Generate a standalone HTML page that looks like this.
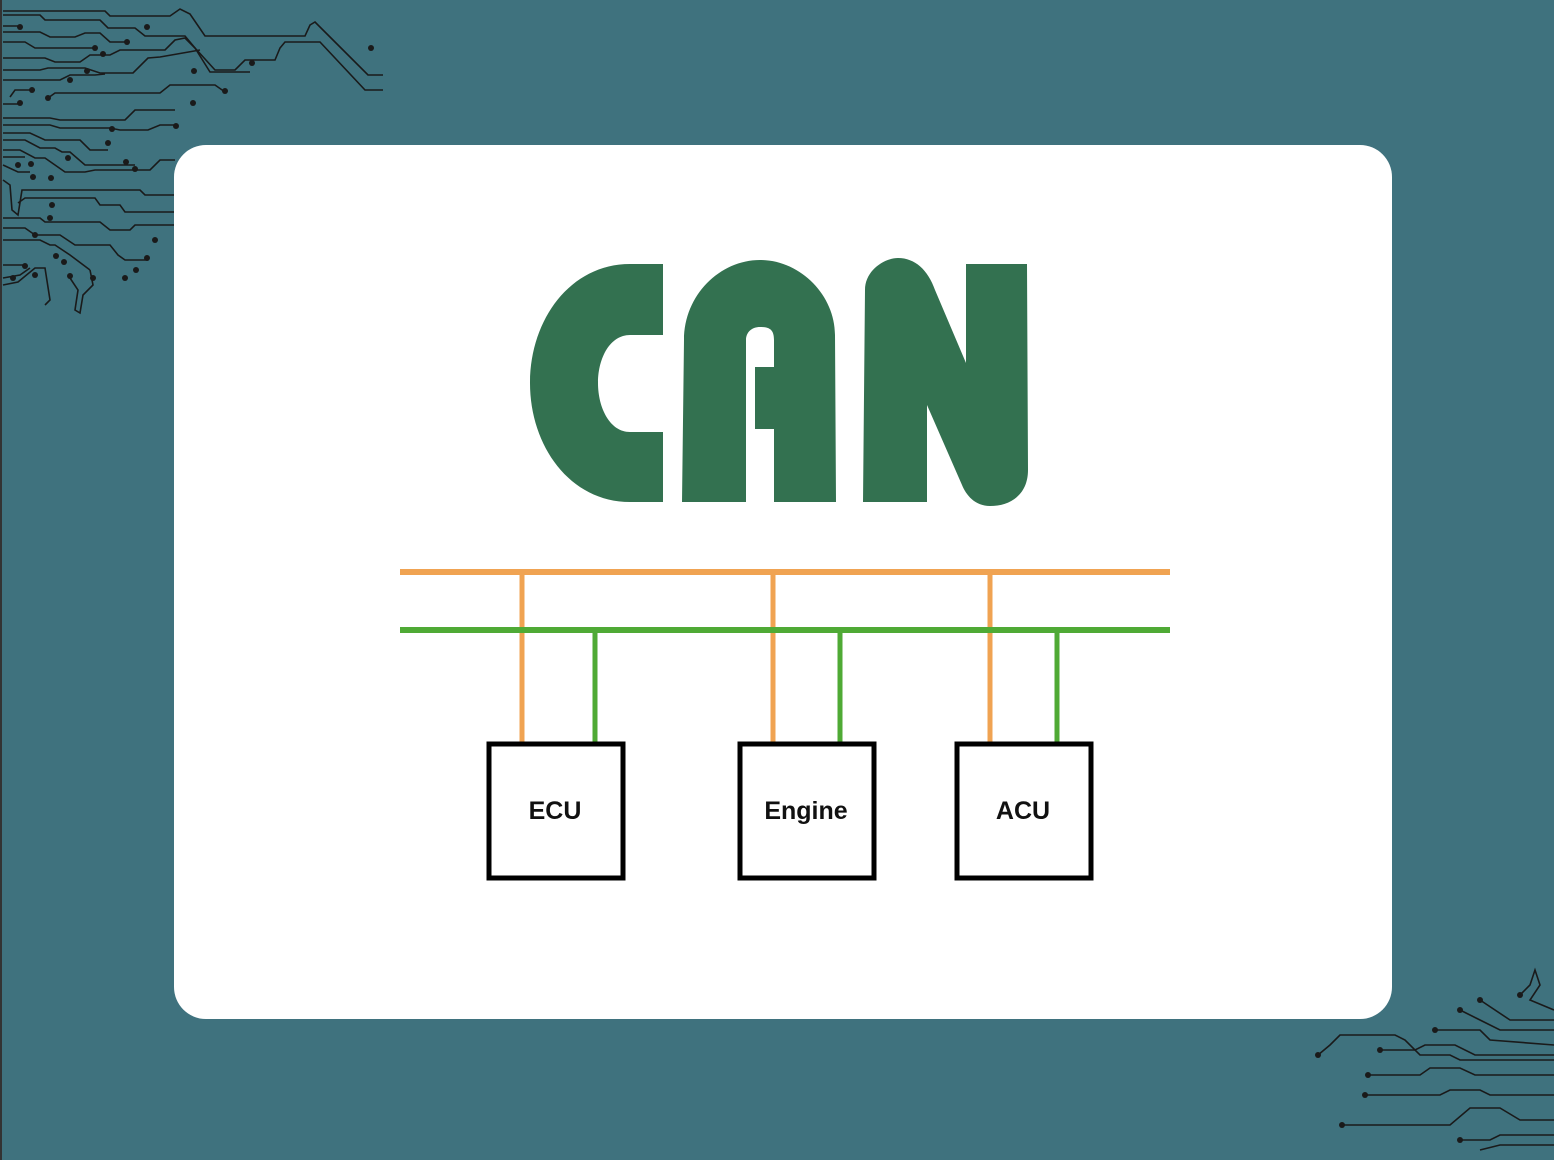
<!DOCTYPE html>
<html><head><style>
html,body{margin:0;padding:0;width:1554px;height:1160px;overflow:hidden;background:#3f727e}
</style></head><body>
<svg width="1554" height="1160" viewBox="0 0 1554 1160" xmlns="http://www.w3.org/2000/svg" style="position:absolute;left:0;top:0">
<rect x="0" y="0" width="1554" height="1160" fill="#3f727e"/>
<rect x="0" y="0" width="2" height="1160" fill="#333"/>
<g fill="none" stroke="#1a1a1a" stroke-width="1.6">
<path d="M3 11 H105 L110 16 H170 L180 9 L190 14 L205 36 H305 L310 25 L315 22 L330 37 L368 75 H383"/>
<path d="M3 15 H40 L45 20 H100 L108 28 H135 L145 36 H185 L195 48 L215 70 H235 L245 60 H275 L280 48 L285 42 H320 L365 90 H383"/>
<path d="M3 26 H20"/><path d="M3 32 H40 L50 37 H75 L85 33 H100 L110 42 H127"/>
<path d="M3 42 H25 L35 48 H95"/>
<path d="M3 58 H45 L55 62 H80 L90 55 H110 L120 50 L165 50 L175 40 L185 38 L195 48 L210 72 H250"/>
<path d="M3 70 H40 L48 68 H85 L100 73 H133 L148 58 L160 57 L200 50"/>
<path d="M3 80 H60 L70 75 H95 L105 74"/>
<path d="M10 97 L15 90 H35"/><path d="M3 104 H20"/>
<path d="M48 98 L55 93 H160 L170 85 H215 L225 92"/>
<path d="M3 118 H50 L60 120 H125 L135 110 H175"/>
<path d="M3 125 H50 L60 128 H110 L120 130 H148 L160 125 H175"/>
<path d="M3 133 H30 L45 140 H80 L90 150 H108"/>
<path d="M3 140 H25 L40 148 H55 L62 152 H70 L85 165 H135"/>
<path d="M3 150 H20 L35 158 H45 L55 165 L65 172 H85 L95 170 H150 L160 160 H175"/>
<path d="M3 157 H25"/><path d="M3 165 L18 172 H30"/>
<path d="M3 180 L10 185 L12 210 L18 215 L22 190 H140 L145 195 H175"/>
<path d="M18 203 L25 198 H95 L100 205 H120 L125 212 H175"/>
<path d="M3 218 H40 L45 222 H100 L110 230 H130 L135 225 H175"/>
<path d="M3 228 H25 L35 235 H60 L75 245 H110 L118 255 L125 260 H148"/>
<path d="M3 240 H40 L50 245 H55 L70 255 L90 270"/>
<path d="M3 265 H25"/><path d="M3 278 L20 275 L30 268"/><path d="M3 285 L18 282 L35 268 H45 L50 300 L45 305"/>
<path d="M70 278 L78 290 L75 310 L80 313 L83 295 L93 285 L90 270"/>
</g>
<g fill="#1a1a1a">
<circle cx="20" cy="27" r="3"/><circle cx="147" cy="27" r="3"/><circle cx="127" cy="42" r="3"/><circle cx="95" cy="48" r="3"/><circle cx="103" cy="54" r="3"/><circle cx="252" cy="63" r="3"/><circle cx="371" cy="48" r="3"/><circle cx="194" cy="71" r="3"/><circle cx="87" cy="71" r="3"/><circle cx="70" cy="80" r="3"/><circle cx="225" cy="91" r="3"/><circle cx="32" cy="90" r="3"/><circle cx="48" cy="98" r="3"/><circle cx="20" cy="103" r="3"/><circle cx="193" cy="103" r="3"/><circle cx="112" cy="129" r="3"/><circle cx="176" cy="126" r="3"/><circle cx="108" cy="143" r="3"/><circle cx="126" cy="162" r="3"/><circle cx="135" cy="169" r="3"/><circle cx="68" cy="158" r="3"/><circle cx="18" cy="165" r="3"/><circle cx="31" cy="164" r="3"/><circle cx="33" cy="177" r="3"/><circle cx="51" cy="178" r="3"/><circle cx="52" cy="205" r="3"/><circle cx="50" cy="218" r="3"/><circle cx="35" cy="235" r="3"/><circle cx="155" cy="240" r="3"/><circle cx="147" cy="258" r="3"/><circle cx="136" cy="270" r="3"/><circle cx="125" cy="278" r="3"/><circle cx="25" cy="266" r="3"/><circle cx="13" cy="278" r="3"/><circle cx="35" cy="275" r="3"/><circle cx="56" cy="256" r="3"/><circle cx="64" cy="262" r="3"/><circle cx="70" cy="276" r="3"/><circle cx="93" cy="278" r="3"/>
</g>
<g fill="none" stroke="#1a1a1a" stroke-width="1.6">
<path d="M1318 1055 L1330 1045 L1340 1035 H1395 L1405 1040 L1420 1055 H1450 L1460 1060 H1554"/>
<path d="M1368 1075 H1420 L1430 1068 H1460 L1475 1075 H1554"/>
<path d="M1380 1050 H1415 L1425 1045 H1455 L1475 1055 H1554"/>
<path d="M1435 1030 H1480 L1490 1040 L1554 1045"/>
<path d="M1460 1010 L1480 1020 L1500 1030 H1554"/>
<path d="M1480 1000 L1510 1020 H1554"/>
<path d="M1520 995 L1530 985 L1535 970 L1540 985 L1530 1000 L1554 1010"/>
<path d="M1365 1095 H1440 L1450 1090 H1480 L1490 1095 H1554"/>
<path d="M1342 1125 H1450 L1470 1108 H1500 L1520 1120 H1554"/>
<path d="M1460 1140 H1490 L1500 1135 H1554"/>
<path d="M1480 1150 L1500 1145 H1554"/>
</g>
<g fill="#1a1a1a">
<circle cx="1318" cy="1055" r="3"/><circle cx="1368" cy="1075" r="3"/><circle cx="1380" cy="1050" r="3"/><circle cx="1435" cy="1030" r="3"/><circle cx="1460" cy="1010" r="3"/><circle cx="1480" cy="1000" r="3"/><circle cx="1520" cy="995" r="3"/><circle cx="1365" cy="1095" r="3"/><circle cx="1342" cy="1125" r="3"/><circle cx="1460" cy="1140" r="3"/>
</g>
<rect x="174" y="145" width="1218" height="874" rx="32" fill="#fff"/>
<g fill="#337150">
<path d="M663 264 H630 C570 264 530 320 530 383 C530 446 570 502 630 502 H663 V432 H630 C610 432 598 408 598 383 C598 358 610 335 630 335 H663 Z"/>
<path d="M682 502 L684 340 C684 295 720 260 760 260 C800 260 835 295 835 335 L836 502 H774 V429 H755 V367 H774 V340 C774 330 770 327 760 327 C752 327 746 332 746 340 V502 Z"/>
<path d="M863 502 L865 290 C865 270 885 258 898 258 C915 258 928 270 935 290 L966 363 V264 H1027 L1028 470 C1028 495 1010 506 990 506 C975 506 966 495 962 485 L927 405 V502 Z"/>
</g>
<g stroke-linecap="butt">
<line x1="400" y1="572" x2="1170" y2="572" stroke="#f0a352" stroke-width="6"/>
<line x1="522" y1="572" x2="522" y2="745" stroke="#f0a352" stroke-width="5"/>
<line x1="773" y1="572" x2="773" y2="745" stroke="#f0a352" stroke-width="5"/>
<line x1="990" y1="572" x2="990" y2="745" stroke="#f0a352" stroke-width="5"/>
<line x1="400" y1="630" x2="1170" y2="630" stroke="#4faa35" stroke-width="6"/>
<line x1="595" y1="630" x2="595" y2="745" stroke="#4faa35" stroke-width="5"/>
<line x1="840" y1="630" x2="840" y2="745" stroke="#4faa35" stroke-width="5"/>
<line x1="1057" y1="630" x2="1057" y2="745" stroke="#4faa35" stroke-width="5"/>
</g>
<g fill="none" stroke="#000" stroke-width="5">
<rect x="489" y="744" width="134" height="134"/>
<rect x="740" y="744" width="134" height="134"/>
<rect x="957" y="744" width="134" height="134"/>
</g>
<g font-family="Liberation Sans, sans-serif" font-weight="bold" font-size="25" fill="#111" text-anchor="middle">
<text x="555" y="819">ECU</text>
<text x="806" y="819">Engine</text>
<text x="1023" y="819">ACU</text>
</g>
</svg>
</body></html>
